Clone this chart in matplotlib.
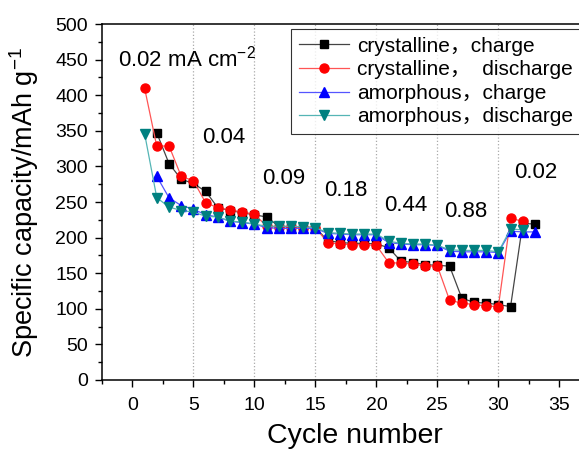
import matplotlib
matplotlib.use("Agg")
import matplotlib.pyplot as plt
from matplotlib.ticker import MultipleLocator

plt.rcParams['font.family'] = ['Liberation Sans', 'Noto Sans CJK SC', 'DejaVu Sans']
plt.rcParams['mathtext.fontset'] = 'custom'
plt.rcParams['mathtext.rm'] = 'Liberation Sans'
plt.rcParams['mathtext.it'] = 'Liberation Sans:italic'

# Cycle numbers
cyc_dis = list(range(1, 33))   # discharge series: cycles 1-32
cyc_chg = list(range(2, 34))   # charge series: cycles 2-33

# Crystalline, charge (black squares)
cryst_charge = [347, 304, 282, 276, 265, 242, 238, 235, 232, 229,
                216, 215, 215, 214, 196, 193, 192, 192, 191, 186,
                167, 165, 162, 161, 160, 115, 109, 108, 106, 103,
                220, 219]
# Crystalline, discharge (red circles)
cryst_discharge = [410, 328, 329, 286, 280, 249, 242, 239, 236, 233,
                   216, 215, 215, 214, 214, 193, 191, 190, 190, 189,
                   165, 164, 163, 160, 160, 112, 108, 106, 104, 103,
                   227, 223]
# Amorphous, charge (blue triangles)
amor_charge = [286, 256, 245, 240, 232, 229, 223, 221, 219, 214,
               213, 213, 213, 213, 206, 205, 204, 204, 204, 193,
               191, 190, 190, 189, 181, 180, 180, 180, 179, 209,
               208, 208]
# Amorphous, discharge (teal down triangles)
amor_discharge = [346, 256, 243, 238, 236, 230, 229, 223, 222, 219,
                  216, 216, 216, 215, 214, 207, 206, 205, 205, 205,
                  195, 192, 191, 191, 189, 183, 182, 182, 182, 180,
                  212, 211]

rate_labels = ['0.04', '0.09', '0.18', '0.44', '0.88', '0.02']
rate_pos = [(7.5, 340), (12.4, 283), (17.5, 266), (22.4, 245), (27.3, 236), (33.1, 292)]

fig = plt.figure(figsize=(5.79, 4.49), dpi=100)
ax = fig.add_axes([0.176, 0.1537, 0.828, 0.7928])

for xv in [5, 10, 15, 20, 25, 30]:
    ax.axvline(xv, color='#aaaaaa', linestyle=':', linewidth=0.9, zorder=0)

ax.plot(cyc_chg, cryst_charge, color='#444444', lw=0.9, marker='s', ms=6,
        mfc='black', mec='black', label='crystalline，charge')
ax.plot(cyc_dis, cryst_discharge, color='#ff5555', lw=0.9, marker='o', ms=6.5,
        mfc='red', mec='red', label='crystalline，  discharge')
ax.plot(cyc_chg, amor_charge, color='#5555ff', lw=0.9, marker='^', ms=7,
        mfc='blue', mec='blue', label='amorphous，charge')
ax.plot(cyc_dis, amor_discharge, color='#55b5b5', lw=0.9, marker='v', ms=7,
        mfc='#008080', mec='#008080', label='amorphous，discharge')

ax.set_xlim(-2.5, 36.8)
ax.set_ylim(0, 500)
ax.xaxis.set_major_locator(MultipleLocator(5))
ax.xaxis.set_minor_locator(MultipleLocator(2.5))
ax.yaxis.set_major_locator(MultipleLocator(50))
ax.yaxis.set_minor_locator(MultipleLocator(25))
ax.tick_params(which='major', direction='out', length=5, labelsize=14, width=1)
ax.tick_params(which='minor', direction='out', length=3, width=1)
ax.tick_params(axis='y', which='major', pad=5)
ax.tick_params(axis='x', which='major', pad=7)
for s in ax.spines.values():
    s.set_linewidth(1.1)

ax.set_xlabel('Cycle number', fontsize=20.5)
ax.set_ylabel('Specific capacity/mAh g$^{-1}$', fontsize=19.5)
ax.xaxis.set_label_coords(0.527, -0.12)
ax.yaxis.set_label_coords(-0.128, 0.5)

ax.text(-1.2, 452, '0.02 mA cm$^{-2}$', fontsize=16, va='center', ha='left')
for lab, (xx, yy) in zip(rate_labels, rate_pos):
    ax.text(xx, yy, lab, fontsize=16, va='center', ha='center')

leg = ax.legend(loc='upper right', bbox_to_anchor=(0.998, 0.985), fontsize=15,
                frameon=True, fancybox=False, edgecolor='black', handlelength=2.4,
                borderpad=0.35, labelspacing=0.22, handletextpad=0.4, borderaxespad=0)
leg.get_frame().set_linewidth(0.8)

fig.savefig('out.png', dpi=100)
